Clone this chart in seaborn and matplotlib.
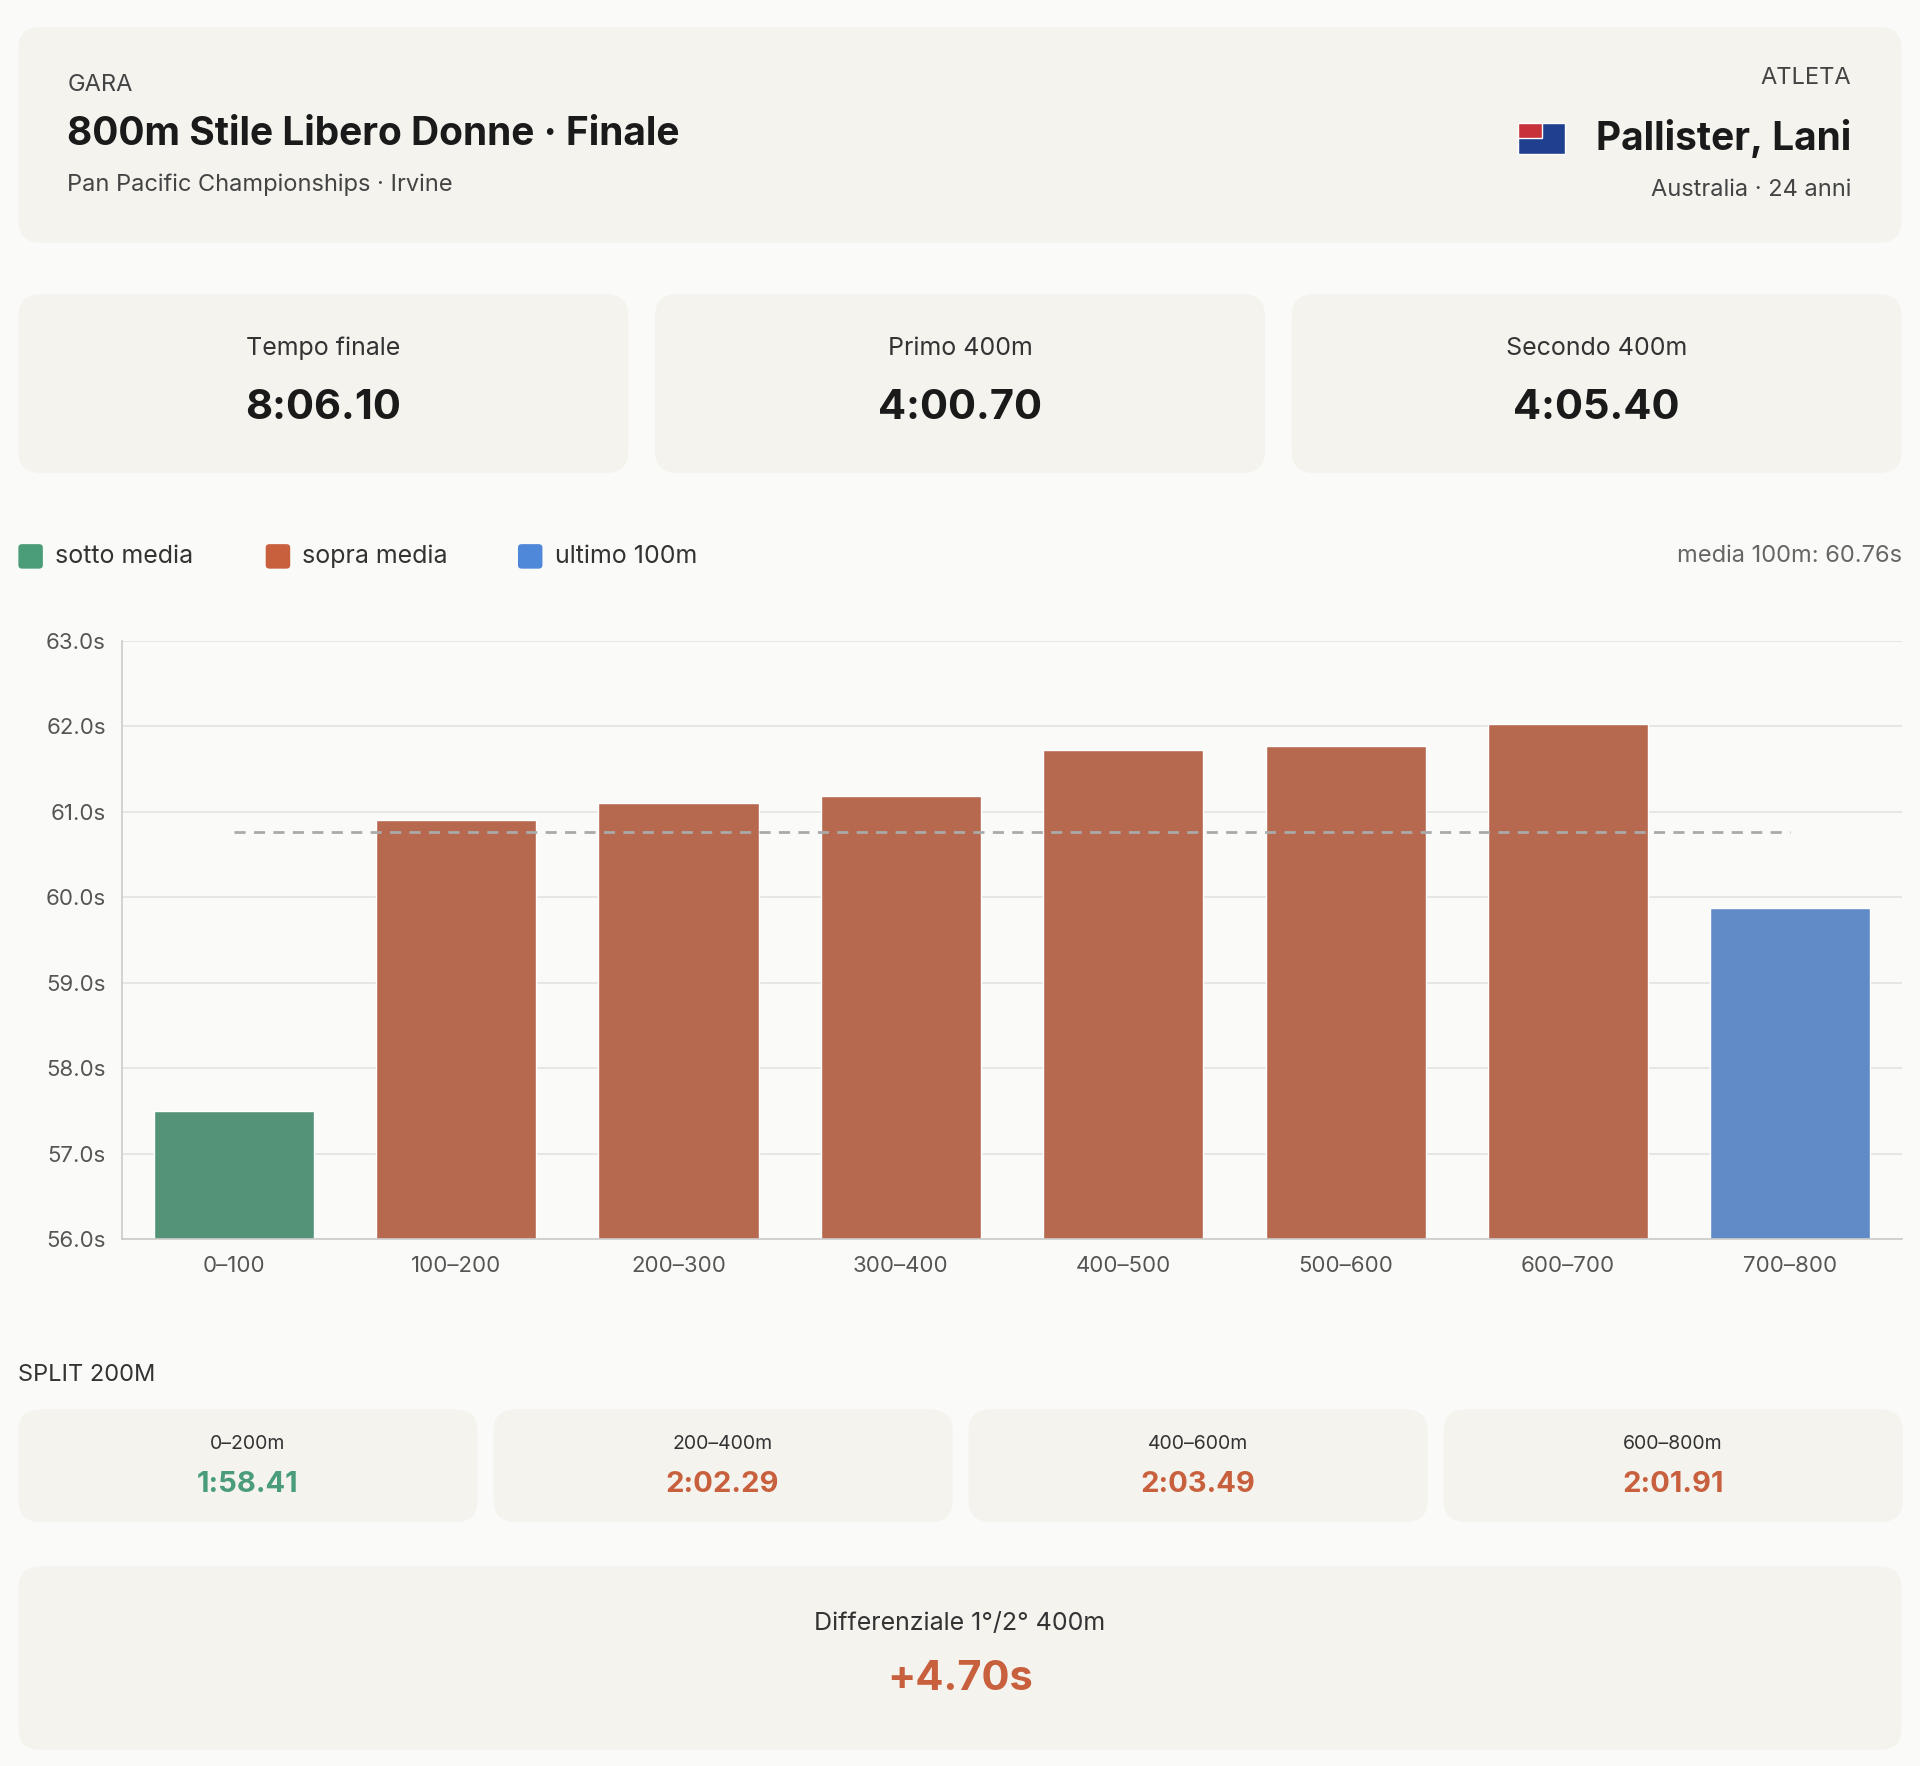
import matplotlib
matplotlib.use("Agg")
import matplotlib.pyplot as plt
from matplotlib.patches import FancyBboxPatch, Rectangle
import seaborn as sns
import pandas as pd

segments = ["0–100", "100–200", "200–300", "300–400", "400–500", "500–600", "600–700", "700–800"]
times = [57.50, 60.91, 61.10, 61.19, 61.72, 61.77, 62.03, 59.88]
groups = ["sotto media", "sopra media", "sopra media", "sopra media",
          "sopra media", "sopra media", "sopra media", "ultimo 100m"]
mean_100 = 60.76
yticks = [56, 57, 58, 59, 60, 61, 62, 63]

stat_labels = ["Tempo finale", "Primo 400m", "Secondo 400m"]
stat_values = ["8:06.10", "4:00.70", "4:05.40"]
split_labels = ["0–200m", "200–400m", "400–600m", "600–800m"]
split_values = ["1:58.41", "2:02.29", "2:03.49", "2:01.91"]
split_groups = ["sotto media", "sopra media", "sopra media", "sopra media"]

GREEN, ORANGE, BLUE = "#4a9d78", "#c8603e", "#4f88d8"
palette = {"sotto media": GREEN, "sopra media": ORANGE, "ultimo 100m": BLUE}
BG, CARD, INK, MUTED = "#fafaf8", "#f4f3ee", "#1a1a1a", "#444444"

sns.set_theme(style="white")
plt.rcParams["font.family"] = ["Inter", "DejaVu Sans"]

W, H = 1568, 1441  # reference layout coordinates
fig = plt.figure(figsize=(19.2, 17.66), dpi=100, facecolor=BG)


def fx(x):
    return x / W


def fy(y):
    return 1 - y / H


def card(x0, y0, x1, y1):
    fig.patches.append(FancyBboxPatch((fx(x0), fy(y1)), fx(x1) - fx(x0), fy(y0) - fy(y1),
                                      boxstyle="round,pad=0,rounding_size=0.012",
                                      transform=fig.transFigure, facecolor=CARD,
                                      edgecolor="none", zorder=0))


def txt(x, y, s, size, color=INK, weight="normal", ha="left"):
    fig.text(fx(x), fy(y), s, fontsize=size, color=color, fontweight=weight, ha=ha, va="center")


# header
card(15, 22, 1553, 198)
txt(55, 69, "GARA", 17, MUTED)
txt(55, 110, "800m Stile Libero Donne · Finale", 28, INK, "bold")
txt(55, 151, "Pan Pacific Championships · Irvine", 17, MUTED)
txt(1512, 64, "ATLETA", 17, MUTED, ha="right")
txt(1512, 113, "Pallister, Lani", 28, INK, "bold", ha="right")
txt(1512, 155, "Australia · 24 anni", 17, MUTED, ha="right")
fig.patches.append(Rectangle((fx(1240), fy(126)), fx(38), fy(100) - fy(126),
                             transform=fig.transFigure, facecolor="#1f3f8f", zorder=1))
fig.patches.append(Rectangle((fx(1240), fy(113)), fx(19), fy(100) - fy(113),
                             transform=fig.transFigure, facecolor="#c8303a", zorder=2))

# stat cards
for i, (lab, val) in enumerate(zip(stat_labels, stat_values)):
    x0 = 15 + i * 520
    card(x0, 240, x0 + 498, 386)
    txt(x0 + 249, 284, lab, 18, "#333333", ha="center")
    txt(x0 + 249, 333, val, 30, INK, "bold", ha="center")

# legend
lx = 15
for name, w in zip(["sotto media", "sopra media", "ultimo 100m"], [202, 206, 0]):
    fig.patches.append(FancyBboxPatch((fx(lx), fy(464)), fx(20), fy(444) - fy(464),
                                      boxstyle="round,pad=0,rounding_size=0.002",
                                      transform=fig.transFigure, facecolor=palette[name],
                                      edgecolor="none"))
    txt(lx + 30, 454, name, 18, "#333333")
    lx += w
txt(1553, 454, f"media 100m: {mean_100:.2f}s", 17, "#666666", ha="right")

# chart
df = pd.DataFrame({"segment": segments, "time": times, "group": groups})
ax = fig.add_axes([fx(100), fy(1011), fx(1553) - fx(100), fy(523) - fy(1011)])
ax.set_facecolor(BG)
sns.barplot(data=df, x="segment", y="time", hue="group", palette=palette,
            dodge=False, width=0.72, legend=False, ax=ax, zorder=2)
ax.set_ylim(56, 63)
ax.set_xlim(-0.5, 7.5)
ax.set_yticks(yticks)
ax.set_yticklabels([f"{v:.1f}s" for v in yticks])
ax.grid(axis="y", color="#e2e2e2", linewidth=1.2, zorder=0)
ax.plot([0, 7], [mean_100, mean_100], ls=(0, (4, 3)), color="#aaaaaa", lw=2, zorder=3)
for s in ["top", "right"]:
    ax.spines[s].set_visible(False)
for s in ["left", "bottom"]:
    ax.spines[s].set_color("#cccccc")
ax.tick_params(axis="both", labelsize=16, colors="#555555", length=0, pad=12)
ax.set_xlabel("")
ax.set_ylabel("")

# split 200m
txt(15, 1122, "SPLIT 200M", 17, "#333333")
for i, (lab, val, g) in enumerate(zip(split_labels, split_values, split_groups)):
    x0 = 15 + i * 388
    card(x0, 1150, x0 + 375, 1242)
    txt(x0 + 187, 1178, lab, 14, "#333333", ha="center")
    txt(x0 + 187, 1211, val, 21, palette[g], "bold", ha="center")

# differential
card(15, 1278, 1553, 1428)
txt(784, 1325, "Differenziale 1°/2° 400m", 18, "#333333", ha="center")
txt(784, 1370, "+4.70s", 30, ORANGE, "bold", ha="center")

fig.savefig("out.png", dpi=100, facecolor=BG)
